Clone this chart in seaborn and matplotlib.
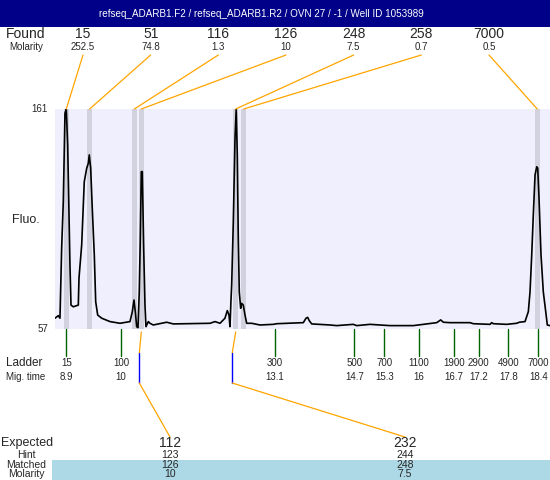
import numpy as np
import pandas as pd
from matplotlib import pyplot as plt
from matplotlib.patches import Rectangle
import seaborn as sns

sns.set_style('white')
plt.rcParams['font.family'] = ['Liberation Sans', 'DejaVu Sans']

#title of the run
title = 'refseq_ADARB1.F2 / refseq_ADARB1.R2 / OVN 27 / -1 / Well ID 1053989'

#electropherogram trace (migration time, fluorescence)
trace_time = [8.673, 8.739, 8.773, 8.807, 8.840, 8.874, 8.900, 8.928, 8.954, 8.974,
              8.995, 9.041, 9.142, 9.156, 9.210, 9.262, 9.311, 9.343, 9.363, 9.391,
              9.423, 9.464, 9.492, 9.532, 9.613, 9.780, 9.981, 10.182, 10.229, 10.263,
              10.289, 10.317, 10.343, 10.369, 10.390, 10.410, 10.430, 10.458, 10.484, 10.504,
              10.551, 10.585, 10.651, 10.921, 11.054, 11.793, 11.893, 11.994, 12.094, 12.141,
              12.175, 12.195, 12.215, 12.229, 12.262, 12.296, 12.320, 12.342, 12.362, 12.382,
              12.410, 12.431, 12.463, 12.497, 12.531, 12.632, 12.799, 13.067, 13.135, 13.671,
              13.725, 13.759, 13.791, 13.840, 14.208, 14.343, 14.677, 14.745, 15.013, 15.416,
              15.885, 16.154, 16.356, 16.436, 16.489, 16.623, 17.026, 17.092, 17.429, 17.463,
              17.495, 17.765, 17.966, 18.018, 18.133, 18.200, 18.234, 18.268, 18.300, 18.335,
              18.369, 18.389, 18.415, 18.455, 18.501, 18.550, 18.582, 18.636]
trace_fluo = [62.1, 63.3, 62.1, 95.3, 117.2, 159.0, 161.0, 144.0, 112.4, 87.3,
              68.3, 67.5, 68.3, 81.1, 96.7, 126.6, 133.0, 135.3, 139.3, 133.0,
              114.1, 92.0, 69.9, 63.6, 62.1, 60.5, 59.7, 60.5, 65.2, 70.7,
              65.2, 58.1, 57.6, 74.6, 99.9, 131.4, 131.4, 95.1, 68.3, 58.1,
              60.5, 59.7, 58.9, 60.2, 59.4, 59.7, 60.5, 59.7, 62.1, 65.7,
              63.6, 58.1, 70.7, 77.8, 107.7, 147.1, 161.0, 139.3, 99.9, 74.6,
              66.8, 69.1, 68.3, 63.6, 59.7, 59.7, 58.9, 59.2, 59.5, 60.0,
              62.1, 62.5, 60.9, 59.4, 58.9, 58.6, 59.2, 58.6, 59.2, 58.6,
              58.6, 59.4, 60.0, 61.3, 60.2, 60.0, 60.0, 59.5, 59.2, 60.0,
              59.5, 59.2, 59.7, 60.2, 60.5, 65.2, 74.6, 92.0, 110.9, 129.8,
              133.7, 133.0, 118.8, 92.0, 74.6, 65.2, 58.9, 58.6]
y_min, y_max = 57, 161
t_min, t_max = 8.673, 18.636

#found peaks
found_time = [8.90, 9.37, 10.27, 10.41, 12.31, 12.47, 18.38]
found_size = ['15', '51', '116', '126', '248', '258', '7000']
found_molarity = ['252.5', '74.8', '1.3', '10', '7.5', '0.7', '0.5']

#ladder
ladder_size = ['15', '100', '300', '500', '700', '1100', '1900', '2900', '4900', '7000']
ladder_time = [8.9, 10, 13.1, 14.7, 15.3, 16, 16.7, 17.2, 17.8, 18.4]

#expected fragments
expected = ['112', '232']
hint = ['123', '244']
matched = ['126', '248']
matched_time = [10.41, 12.31]
expected_time = [10.37, 12.24]
matched_molarity = ['10', '7.5']

df = pd.DataFrame({'time': trace_time, 'fluo': trace_fluo})

W, H = 550, 480
fig = plt.figure(figsize=(W / 100, H / 100), dpi=100)
ax = fig.add_axes([55 / W, (H - 329) / H, 495 / W, 220 / H])
ov = fig.add_axes([0, 0, 1, 1], zorder=5)
ov.set_xlim(0, W)
ov.set_ylim(H, 0)
ov.axis('off')
ov.patch.set_alpha(0)

#main trace
ax.set_facecolor('#efeffd')
for t in found_time:
    ax.axvspan(t - 0.05, t + 0.05, color='#d2d2df', lw=0, zorder=0)
sns.lineplot(data=df, x='time', y='fluo', ax=ax, color='black', lw=1.2,
             estimator=None, sort=False, zorder=2)
ax.set_xlim(t_min, t_max)
ax.set_ylim(y_min, y_max)
ax.set_xticks([])
ax.set_yticks([])
ax.set_xlabel('')
ax.set_ylabel('')
for s in ax.spines.values():
    s.set_visible(False)


def to_px(t, f):
    return ov.transData.inverted().transform(ax.transData.transform((t, f)))


top_px = to_px(t_min, y_max)[1]
bot_px = to_px(t_min, y_min)[1]

#header
ov.add_patch(Rectangle((0, 0), W, 27, color='#000088', lw=0))
ov.text(261, 14, title, color='white', ha='center', va='center', fontsize=7.1)

#y labels
ov.text(48, top_px, str(y_max), ha='right', va='center', fontsize=7)
ov.text(48, bot_px, str(y_min), ha='right', va='center', fontsize=7)
ov.text(26, 220, 'Fluo.', ha='center', va='center', fontsize=9)

#found row
ov.text(26, 34, 'Found', ha='center', va='center', fontsize=10)
ov.text(26, 47, 'Molarity', ha='center', va='center', fontsize=7)
label_x = np.linspace(83, 489, len(found_size))
for lx, t, s, m in zip(label_x, found_time, found_size, found_molarity):
    ov.text(lx, 34, s, ha='center', va='center', fontsize=10)
    ov.text(lx, 47, m, ha='center', va='center', fontsize=7)
    px = to_px(t, y_max)[0]
    ov.plot([lx, px], [55, top_px], color='orange', lw=0.9)

#ladder
ov.text(24, 363, 'Ladder', ha='center', va='center', fontsize=8.5)
ov.text(26, 377, 'Mig. time', ha='center', va='center', fontsize=7)
for s, t in zip(ladder_size, ladder_time):
    px = to_px(t, y_min)[0]
    ov.plot([px, px], [bot_px, 356], color='#006400', lw=1)
    ov.text(px, 363, s, ha='center', va='center', fontsize=7)
    ov.text(px, 377, str(t), ha='center', va='center', fontsize=7)

#expected table
ov.add_patch(Rectangle((52, 460), W - 52, 20, color='#add8e6', lw=0))
ov.text(1, 443, 'Expected', ha='left', va='center', fontsize=9)
ov.text(26, 455, 'Hint', ha='center', va='center', fontsize=7.5)
ov.text(26, 465, 'Matched', ha='center', va='center', fontsize=7.5)
ov.text(26, 474, 'Molarity', ha='center', va='center', fontsize=7.5)
table_x = [170, 405]
for tx, e, h, m, mol, tm, te in zip(table_x, expected, hint, matched, matched_molarity,
                                    matched_time, expected_time):
    ov.text(tx, 443, e, ha='center', va='center', fontsize=10)
    ov.text(tx, 455, h, ha='center', va='center', fontsize=7.5)
    ov.text(tx, 465, m, ha='center', va='center', fontsize=7.5)
    ov.text(tx, 474, mol, ha='center', va='center', fontsize=7.5)
    mx = to_px(tm, y_min)[0]
    ex = to_px(te, y_min)[0]
    ov.plot([mx, ex], [bot_px + 3, 353], color='orange', lw=0.9)
    ov.plot([ex, ex], [353, 383], color='blue', lw=1)
    ov.plot([ex, tx], [383, 437], color='orange', lw=0.9)

fig.savefig('out.png', dpi=100)
